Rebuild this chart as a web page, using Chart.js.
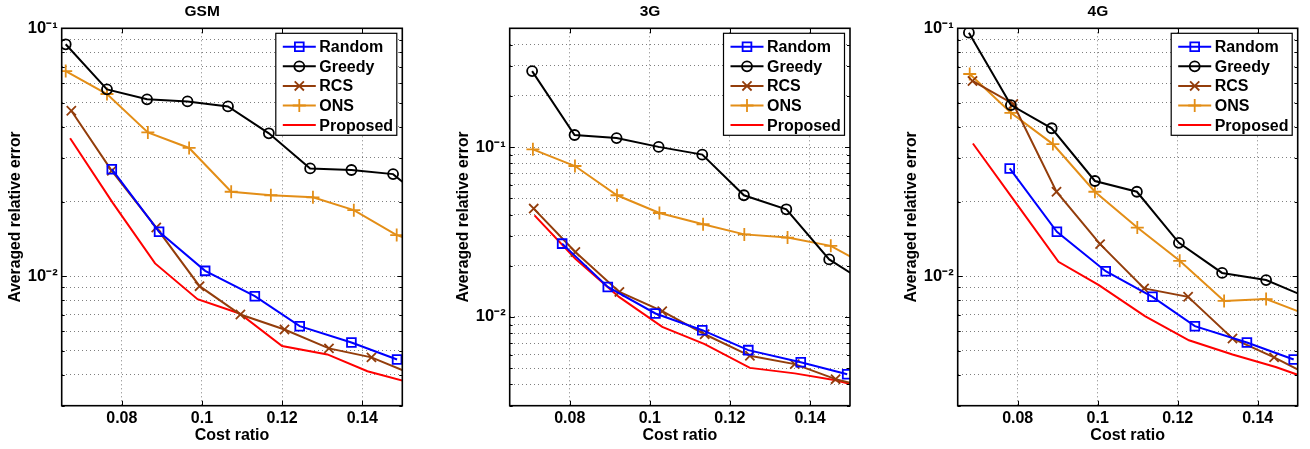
<!DOCTYPE html>
<html>
<head>
<meta charset="utf-8">
<title>Averaged relative error vs cost ratio</title>
<script src="https://cdn.jsdelivr.net/npm/chart.js@4.4.0/dist/chart.umd.min.js"></script>
<style>
  html, body { margin: 0; padding: 0; background: #fff; overflow: hidden; }
  .panel { position: absolute; top: 0; height: 449px; }
</style>
</head>
<body>
<div class="panel" style="left:0px;width:420px"><canvas id="gsmChart"></canvas></div>
<div class="panel" style="left:448px;width:420px"><canvas id="tgChart"></canvas></div>
<div class="panel" style="left:896px;width:414px"><canvas id="fgChart"></canvas></div>
<script>
// Tick values
const xTicks = [0.08, 0.1, 0.12, 0.14];
const xTickLabels = ["0.08", "0.1", "0.12", "0.14"];
const yDecades = [0.01, 0.1];
const yDecadeLabels = ["10⁻²", "10⁻¹"];
const yGridSmall = [0.003, 0.004, 0.005, 0.006, 0.007, 0.008, 0.009,
  0.01, 0.02, 0.03, 0.04, 0.05, 0.06, 0.07, 0.08, 0.09, 0.1];
const yGridTall = [0.003, 0.004, 0.005, 0.006, 0.007, 0.008, 0.009,
  0.01, 0.02, 0.03, 0.04, 0.05, 0.06, 0.07, 0.08, 0.09,
  0.1, 0.2, 0.3, 0.4, 0.5];

// GSM
const gsmRandomX = [0.0775, 0.0893, 0.1008, 0.1132, 0.1244, 0.1373, 0.1487];
const gsmRandomY = [0.027, 0.0151, 0.0105, 0.0083, 0.00628, 0.0054, 0.00461];
const gsmGreedyX = [0.066, 0.0763, 0.0863, 0.0964, 0.1065, 0.1167, 0.127, 0.1373, 0.1477, 0.158];
const gsmGreedyY = [0.0862, 0.0567, 0.0517, 0.0507, 0.0484, 0.0377, 0.0272, 0.0268, 0.0258, 0.0188];
const gsmRcsX = [0.0674, 0.0775, 0.0886, 0.0994, 0.1096, 0.1206, 0.1317, 0.1423, 0.1533];
const gsmRcsY = [0.0465, 0.0266, 0.0157, 0.00911, 0.007, 0.00609, 0.00511, 0.0047, 0.00397];
const gsmOnsX = [0.066, 0.0763, 0.0865, 0.0968, 0.1073, 0.1172, 0.1277, 0.1379, 0.1486, 0.159];
const gsmOnsY = [0.0672, 0.0543, 0.038, 0.0329, 0.0219, 0.0212, 0.0208, 0.01846, 0.01464, 0.0128];
const gsmProposedX = [0.0671, 0.0777, 0.0883, 0.0989, 0.1094, 0.12, 0.1313, 0.1413, 0.1525];
const gsmProposedY = [0.036, 0.0198, 0.01125, 0.00807, 0.00707, 0.00522, 0.00483, 0.00413, 0.0037];

// 3G
const tgRandomX = [0.0781, 0.0895, 0.1014, 0.1131, 0.1246, 0.1377, 0.1493];
const tgRandomY = [0.027, 0.015, 0.01047, 0.00835, 0.00637, 0.0054, 0.0046];
const tgGreedyX = [0.0706, 0.0812, 0.0917, 0.1022, 0.1131, 0.1235, 0.1341, 0.1448, 0.1553];
const tgGreedyY = [0.28, 0.1177, 0.1129, 0.1002, 0.0902, 0.052, 0.043, 0.0218, 0.0152];
const tgRcsX = [0.071, 0.0814, 0.0924, 0.1031, 0.1137, 0.125, 0.1362, 0.1464, 0.157];
const tgRcsY = [0.0434, 0.0241, 0.01403, 0.0108, 0.0079, 0.0059, 0.00527, 0.0043, 0.00373];
const tgOnsX = [0.0708, 0.0813, 0.0918, 0.1024, 0.1133, 0.1236, 0.1344, 0.1452, 0.1556];
const tgOnsY = [0.0969, 0.0773, 0.052, 0.0409, 0.0351, 0.0306, 0.0293, 0.0262, 0.0192];
const tgProposedX = [0.0712, 0.0814, 0.0923, 0.1031, 0.1137, 0.125, 0.1362, 0.1464, 0.157];
const tgProposedY = [0.0396, 0.022, 0.01311, 0.00873, 0.00691, 0.00501, 0.00465, 0.00424, 0.00363];

// 4G
const fgRandomX = [0.078, 0.0898, 0.102, 0.1137, 0.1243, 0.1373, 0.149];
const fgRandomY = [0.0272, 0.0151, 0.01047, 0.00825, 0.00628, 0.0054, 0.00461];
const fgGreedyX = [0.0678, 0.0783, 0.0885, 0.0993, 0.1098, 0.1203, 0.1311, 0.1421, 0.1526];
const fgGreedyY = [0.096, 0.049, 0.0395, 0.0242, 0.0219, 0.01362, 0.0103, 0.00964, 0.00818];
const fgRcsX = [0.0687, 0.0789, 0.0897, 0.1006, 0.1116, 0.1226, 0.1337, 0.1441, 0.155];
const fgRcsY = [0.0613, 0.0495, 0.0219, 0.01346, 0.00892, 0.00825, 0.0056, 0.0047, 0.00382];
const fgOnsX = [0.068, 0.0783, 0.0888, 0.0993, 0.1099, 0.1205, 0.1316, 0.1421, 0.1526];
const fgOnsY = [0.0654, 0.0456, 0.0341, 0.0219, 0.0157, 0.01153, 0.00794, 0.00808, 0.00696];
const fgProposedX = [0.0688, 0.0795, 0.0902, 0.1003, 0.1118, 0.1228, 0.1337, 0.1445, 0.1553];
const fgProposedY = [0.0343, 0.0198, 0.01142, 0.0092, 0.0069, 0.00551, 0.00483, 0.0043, 0.00373];

// Series look
const seriesLabels = ["Random", "Greedy", "RCS", "ONS", "Proposed"];
const seriesColors = ["#0000ff", "#000000", "#933d0b", "#e38e17", "#ff0000"];
const seriesMarkers = ["rect", "circle", "crossRot", "cross", false];
const markerRadius = [6.2, 5, 6.5, 6.5, 0];

const FONT = '"Liberation Sans", Arial, Helvetica, sans-serif';
Chart.defaults.font.family = FONT;
Chart.defaults.color = "#000";

function toPoints(xs, ys) {
  return xs.map((x, i) => ({ x: x, y: ys[i] }));
}

// Black box round the axes with inward tick marks
const axesFrame = {
  id: "axesFrame",
  afterDatasetsDraw(chart) {
    const { ctx, chartArea } = chart;
    const xs = chart.scales.x;
    const ys = chart.scales.y;
    ctx.save();
    ctx.strokeStyle = "#000";
    ctx.lineWidth = 1;
    ctx.beginPath();
    ys.ticks.forEach((t) => {
      const py = Math.round(ys.getPixelForValue(t.value)) + 0.5;
      const len = yDecades.includes(t.value) ? 5 : 3;
      ctx.moveTo(chartArea.left, py);
      ctx.lineTo(chartArea.left + len, py);
      ctx.moveTo(chartArea.right, py);
      ctx.lineTo(chartArea.right - len, py);
    });
    xs.ticks.forEach((t) => {
      const px = Math.round(xs.getPixelForValue(t.value)) + 0.5;
      ctx.moveTo(px, chartArea.bottom);
      ctx.lineTo(px, chartArea.bottom - 5);
      ctx.moveTo(px, chartArea.top);
      ctx.lineTo(px, chartArea.top + 5);
    });
    ctx.stroke();
    ctx.lineWidth = 1.6;
    ctx.strokeRect(chartArea.left, chartArea.top,
      chartArea.right - chartArea.left, chartArea.bottom - chartArea.top);
    ctx.restore();
  },
};

// Legend box in the top right corner of the axes
const insideLegend = {
  id: "insideLegend",
  afterDraw(chart) {
    const { ctx, chartArea } = chart;
    const w = 121;
    const h = 102;
    const left = chartArea.right - 5.5 - w;
    const top = chartArea.top + 5;
    ctx.save();
    ctx.fillStyle = "#fff";
    ctx.fillRect(left, top, w, h);
    ctx.strokeStyle = "#000";
    ctx.lineWidth = 1.2;
    ctx.strokeRect(left, top, w, h);
    ctx.font = "bold 16px " + FONT;
    ctx.textBaseline = "middle";
    ctx.textAlign = "left";
    chart.data.datasets.forEach((ds, i) => {
      const y = top + 13.4 + i * 19.6;
      ctx.strokeStyle = ds.borderColor;
      ctx.lineWidth = ds.borderWidth;
      ctx.beginPath();
      ctx.moveTo(left + 7, y);
      ctx.lineTo(left + 40, y);
      ctx.stroke();
      if (ds.pointStyle && ds.pointRadius > 0) {
        ctx.fillStyle = "rgba(0,0,0,0)";
        ctx.lineWidth = ds.pointBorderWidth;
        Chart.helpers.drawPoint(ctx, {
          pointStyle: ds.pointStyle,
          radius: ds.pointRadius,
          borderWidth: ds.pointBorderWidth,
          rotation: 0,
        }, left + 23.5, y);
      }
      ctx.fillStyle = "#000";
      ctx.fillText(ds.label, left + 43.5, y + 1);
    });
    ctx.restore();
  },
};

function makePanel(canvasId, title, yMax, yGrid, xArrays, yArrays, padRight) {
  const datasets = seriesLabels.map((label, i) => ({
    label: label,
    data: toPoints(xArrays[i], yArrays[i]),
    borderColor: seriesColors[i],
    backgroundColor: seriesColors[i],
    borderWidth: 2,
    pointStyle: seriesMarkers[i],
    pointRadius: markerRadius[i],
    pointBorderWidth: 1.8,
    pointBackgroundColor: "rgba(0,0,0,0)",
    pointBorderColor: seriesColors[i],
    tension: 0,
  }));

  return new Chart(document.getElementById(canvasId), {
    type: "line",
    data: { datasets: datasets },
    options: {
      responsive: true,
      maintainAspectRatio: false,
      animation: false,
      layout: { padding: { left: 2, right: padRight, top: 0, bottom: 0 } },
      plugins: {
        legend: { display: false },
        tooltip: { enabled: false },
        title: {
          display: true,
          text: title,
          color: "#000",
          font: { size: 15.5, weight: "bold" },
          padding: { top: 2, bottom: 7.7 },
        },
      },
      scales: {
        x: {
          type: "linear",
          min: 0.065,
          max: 0.15,
          afterBuildTicks: (scale) => {
            scale.ticks = xTicks.map((v) => ({ value: v }));
          },
          afterFit: (scale) => {
            scale.height = 43.3;
          },
          ticks: {
            autoSkip: false,
            maxRotation: 0,
            padding: 3,
            color: "#000",
            font: { size: 16, weight: "bold" },
            callback: (value) => {
              const k = xTicks.indexOf(value);
              return k >= 0 ? xTickLabels[k] : "";
            },
          },
          grid: {
            drawTicks: false,
            color: "rgba(0,0,0,0.5)",
            lineWidth: 1,
          },
          border: { display: false, dash: [1, 3] },
          title: {
            display: true,
            text: "Cost ratio",
            color: "#000",
            font: { size: 16, weight: "bold" },
            padding: { top: 0, bottom: 4 },
          },
        },
        y: {
          type: "logarithmic",
          min: 0.003,
          max: yMax,
          afterBuildTicks: (scale) => {
            scale.ticks = yGrid.map((v) => ({ value: v }));
          },
          afterFit: (scale) => {
            scale.width = 59.7;
          },
          ticks: {
            autoSkip: false,
            padding: 4,
            color: "#000",
            font: { size: 16.5, weight: "bold" },
            callback: (value) => {
              const k = yDecades.findIndex((d) => Math.abs(d - value) < 1e-9);
              return k >= 0 ? yDecadeLabels[k] : "";
            },
          },
          grid: {
            drawTicks: false,
            color: "rgba(0,0,0,0.5)",
            lineWidth: 1,
          },
          border: { display: false, dash: [1, 3] },
          title: {
            display: true,
            text: "Averaged relative error",
            color: "#000",
            font: { size: 15.7, weight: "bold" },
            padding: { top: 4, bottom: 0 },
          },
        },
      },
    },
    plugins: [axesFrame, insideLegend],
  });
}

makePanel("gsmChart", "GSM", 0.1, yGridSmall,
  [gsmRandomX, gsmGreedyX, gsmRcsX, gsmOnsX, gsmProposedX],
  [gsmRandomY, gsmGreedyY, gsmRcsY, gsmOnsY, gsmProposedY], 17.7);

makePanel("tgChart", "3G", 0.5, yGridTall,
  [tgRandomX, tgGreedyX, tgRcsX, tgOnsX, tgProposedX],
  [tgRandomY, tgGreedyY, tgRcsY, tgOnsY, tgProposedY], 18);

makePanel("fgChart", "4G", 0.1, yGridSmall,
  [fgRandomX, fgGreedyX, fgRcsX, fgOnsX, fgProposedX],
  [fgRandomY, fgGreedyY, fgRcsY, fgOnsY, fgProposedY], 12.3);
</script>
</body>
</html>
